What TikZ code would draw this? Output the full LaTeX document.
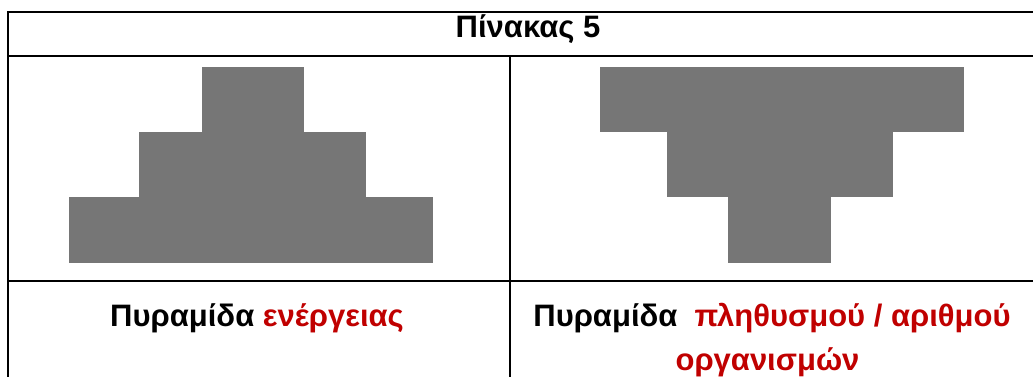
\documentclass[tikz,border=0pt]{standalone}
\usepackage{fontspec}
\setmainfont{Liberation Sans}
\usetikzlibrary{positioning}
\definecolor{blockgray}{HTML}{767676}
\definecolor{wordred}{HTML}{C00000}

\begin{document}
\begin{tikzpicture}[x=1pt,y=-1pt,
  rule/.style={line width=2pt,line cap=rect},
  block/.style={fill=blockgray,draw=none},
  titletext/.style={anchor=base,inner sep=0pt,font=\bfseries\fontsize{31}{36}\selectfont},
  lab/.style={anchor=base,inner sep=0pt,font=\bfseries\fontsize{31}{36}\selectfont}]
\useasboundingbox (0,0) rectangle (1033,376);
% table rules: the table runs off the right and bottom edges
\draw[rule] (1040,12) -- (7.5,12) -- (7.5,380);
\draw[rule] (7.5,56) -- (1040,56);
\draw[rule] (7.5,281) -- (1040,281);
\draw[rule] (510,56) -- (510,380);
% energy pyramid (left), wide base at the bottom
\foreach \xa/\ya/\xb/\yb in {201.7/66.7/304.3/131.7, 139.3/131.7/366/197.3, 69/197.3/432.7/262.7}
  {\fill[block] (\xa,\ya) rectangle (\xb,\yb);}
% population pyramid (right), upside down
\foreach \xa/\ya/\xb/\yb in {600/66.7/964/131.7, 666.7/131.7/893.3/197.3, 728.3/197.3/831.3/262.7}
  {\fill[block] (\xa,\ya) rectangle (\xb,\yb);}
% texts
\node[titletext] (title) at (528,37) {Πίνακας 5};
\node[lab] (energy) at (257,326) {Πυραμίδα \textcolor{wordred}{ενέργειας}};
\node[lab] (popA) at (772,326) {Πυραμίδα\hspace{0.55em}\textcolor{wordred}{πληθυσμού / αριθμού}};
\node[lab,text=wordred] (popB) at (767.5,370) {οργανισμών};
\end{tikzpicture}
\end{document}
